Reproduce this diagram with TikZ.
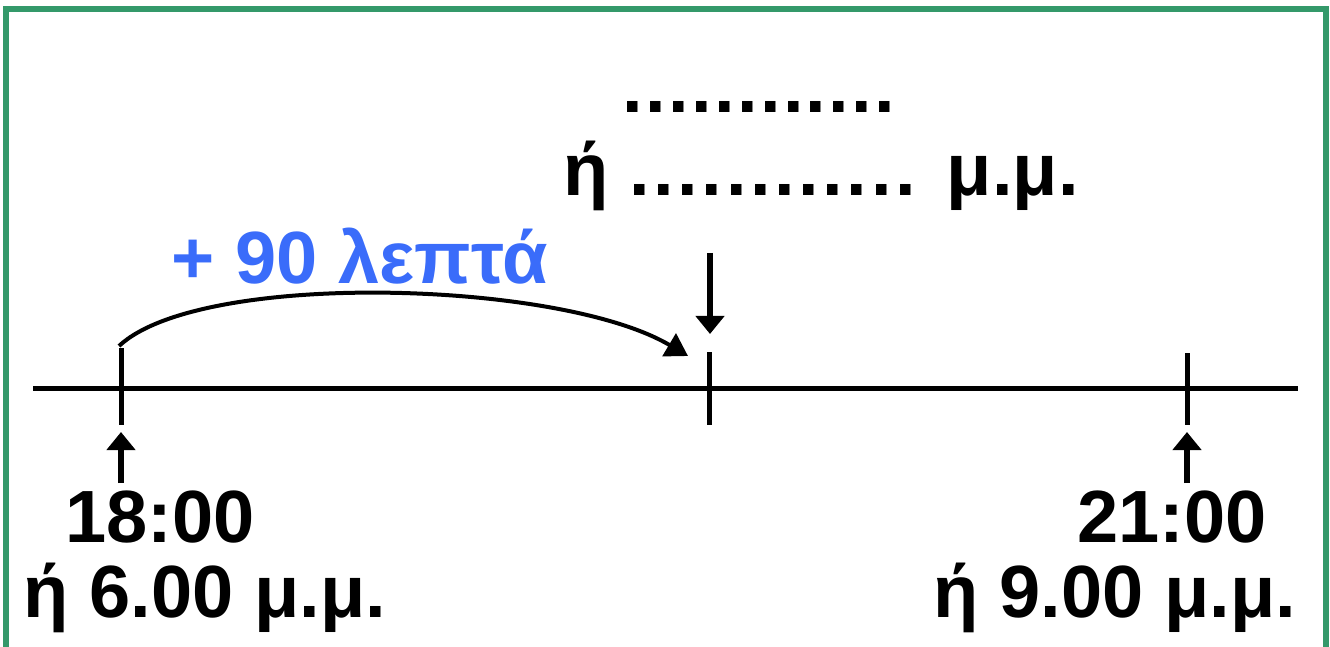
\documentclass[tikz,border=0pt]{standalone}
\usepackage{fontspec}
\setmainfont{Liberation Sans}
\usepackage{xcolor}
\usetikzlibrary{arrows.meta}
\definecolor{framegreen}{RGB}{52,153,106}
\definecolor{minblue}{RGB}{58,108,250}
\newcommand\dotsrow[1]{\foreach \i in {1,...,12}{.\kern#1}}
\tikzset{
  lbl/.style={anchor=base,inner sep=0pt,font=\fontsize{37}{44}\selectfont\bfseries},
  tick/.style={line width=2.5pt},
}
\begin{document}
\begin{tikzpicture}[x=0.5pt,y=-0.5pt,>={Triangle[width=14pt,length=9pt]}]
\useasboundingbox (0,0) rectangle (1330,647);
\clip (0,0) rectangle (1330,647);
\draw[framegreen,line width=3pt](6,660)--(6,9)--(1326,9)--(1326,660);
% time line
\draw[tick](33,388)--(1298,388);
\draw[tick](121,348)--(121,425);
\draw[tick](709,352)--(709,425);
\draw[tick](1187,353)--(1187,425);
% arrows
\coordinate (aUp) at (121,432);
\coordinate (cUp) at (1187,432);
\coordinate (bDown) at (710,334);
\draw[->,line width=3pt](121,483)--(aUp);
\draw[->,line width=3pt](1187,483)--(cUp);
\draw[->,line width=3pt](710,253)--(bDown);
\coordinate (from) at (119,346);
\coordinate (to) at (688,356);
\draw[->,line width=2pt,>={Triangle[width=13pt,length=11pt]}](from)..controls(200,270)and(560,280)..(to);
% labels
\node[lbl,minblue] (mins) at (360,284) {+ 90 λεπτά};
\node[lbl] (dotsA) at (760,113) {\dotsrow{1.2pt}};
\node[lbl] (dotsB) at (821,196) {ή \dotsrow{1.8pt}{} μ.μ.};
\node[lbl] (startA) at (160,542) {18:00};
\node[lbl] (startB) at (205,617) {ή 6.00 μ.μ.};
\node[lbl] (endA) at (1172,542) {21:00};
\node[lbl] (endB) at (1115,617) {ή 9.00 μ.μ.};
\end{tikzpicture}
\end{document}
